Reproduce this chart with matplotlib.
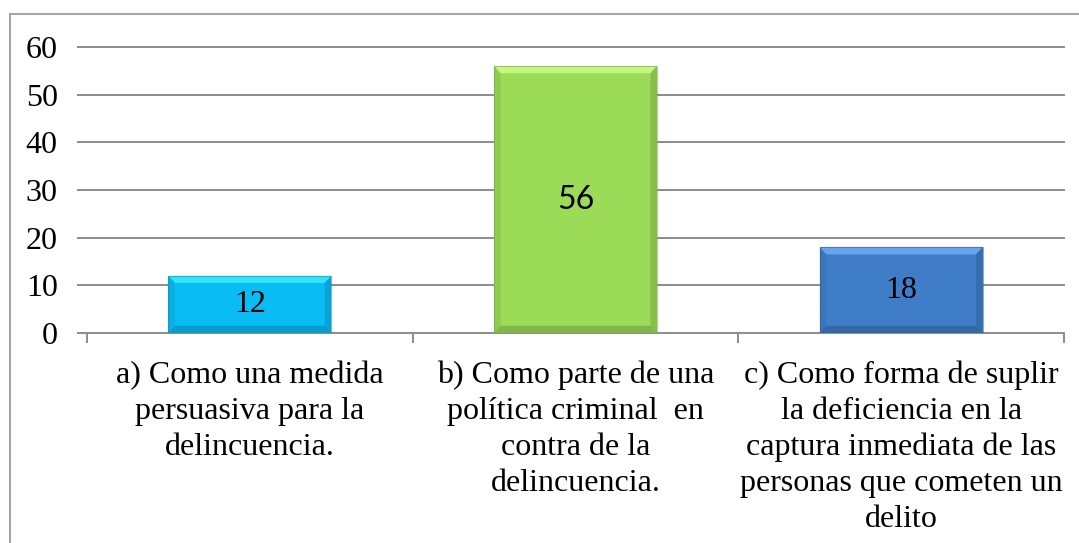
import numpy as np
import matplotlib.pyplot as plt
import matplotlib.patches as patches
from matplotlib.colors import to_rgb

# Datos del grafico
categorias = [
    "a) Como una medida\npersuasiva para la\ndelincuencia.",
    "b) Como parte de una\npolítica criminal  en\ncontra de la\ndelincuencia.",
    "c) Como forma de suplir\nla deficiencia en la\ncaptura inmediata de las\npersonas que cometen un\ndelito",
]
valores = [12, 56, 18]
colores = ["#0abcf4", "#9cdb58", "#3f7dc9"]
yticks = [0, 10, 20, 30, 40, 50, 60]

plt.rcParams['font.family'] = ['Liberation Serif', 'DejaVu Serif']

fig = plt.figure(figsize=(10.79, 5.43), dpi=100)
W, H = 1079, 543

# Marco del grafico (parcialmente fuera de la imagen)
marco = patches.Rectangle((10 / W, -0.1), 1.2, 1 - 14 / H + 0.1, transform=fig.transFigure,
                          fill=False, edgecolor="#a6a6a6", linewidth=1.5)
fig.patches.append(marco)

ax = fig.add_axes([87 / W, 1 - 333 / H, (1064 - 87) / W, (333 - 47) / H])

x = np.arange(len(valores))
ax.set_xlim(-0.5, len(valores) - 0.5)
ax.set_ylim(0, 60)

# Lineas de division
for y in yticks[1:]:
    ax.axhline(y, color="#8c8c8c", linewidth=1.4, zorder=1, clip_on=False)

barras = ax.bar(x, valores, width=0.5, color=colores, zorder=3,
                edgecolor="none")

# Efecto de bisel tipo Excel
for b, c in zip(barras, colores):
    r, g, bl = to_rgb(c)
    claro = (min(1, r + 0.2), min(1, g + 0.2), min(1, bl + 0.2))
    oscuro = (r * 0.72, g * 0.72, bl * 0.72)
    x0, y0 = b.get_x(), b.get_y()
    w, h = b.get_width(), b.get_height()
    dx = w * 0.04
    dy = 60 * 0.025
    # borde superior claro
    ax.add_patch(patches.Polygon([(x0, y0 + h), (x0 + w, y0 + h), (x0 + w - dx, y0 + h - dy),
                                  (x0 + dx, y0 + h - dy)], closed=True, facecolor=claro,
                                 edgecolor="none", zorder=4, alpha=0.8))
    # borde derecho oscuro
    ax.add_patch(patches.Polygon([(x0 + w, y0 + h), (x0 + w, y0), (x0 + w - dx, y0 + dy),
                                  (x0 + w - dx, y0 + h - dy)], closed=True, facecolor=oscuro,
                                 edgecolor="none", zorder=4, alpha=0.45))
    # borde inferior oscuro
    ax.add_patch(patches.Polygon([(x0, y0), (x0 + w, y0), (x0 + w - dx, y0 + dy),
                                  (x0 + dx, y0 + dy)], closed=True, facecolor=oscuro,
                                 edgecolor="none", zorder=4, alpha=0.6))
    # borde izquierdo
    ax.add_patch(patches.Polygon([(x0, y0), (x0, y0 + h), (x0 + dx, y0 + h - dy),
                                  (x0 + dx, y0 + dy)], closed=True, facecolor=oscuro,
                                 edgecolor="none", zorder=4, alpha=0.25))
    # contorno
    ax.add_patch(patches.Rectangle((x0, y0), w, h, fill=False, edgecolor=oscuro,
                                   linewidth=0.8, zorder=5, alpha=0.5))

# Etiquetas de datos
fuentes_etiq = [['Liberation Serif'], ['Lato', 'DejaVu Sans'], ['Liberation Serif']]
for b, v, f in zip(barras, valores, fuentes_etiq):
    ax.text(b.get_x() + b.get_width() / 2, v / 2, str(v), ha="center", va="center",
            fontsize=23, color="black", family=f, zorder=6)

# Ejes
for lado in ["top", "right"]:
    ax.spines[lado].set_visible(False)
ax.spines["left"].set_visible(False)
ax.spines["bottom"].set_color("#8c8c8c")
ax.spines["bottom"].set_linewidth(1.4)

ax.set_yticks(yticks)
ax.set_yticklabels([str(t) for t in yticks], fontsize=23)
ax.tick_params(axis="y", length=7, width=1.4, color="#8c8c8c", pad=14)

# Marcas de categoria entre barras
ax.set_xticks([-0.5, 0.5, 1.5, 2.5])
ax.set_xticklabels([])
ax.tick_params(axis="x", length=7, width=1.4, color="#8c8c8c", direction="out")

for i, cat in enumerate(categorias):
    ax.text(i, -5.8, cat, ha="center", va="top", fontsize=23, linespacing=1.31,
            transform=ax.transData)

fig.savefig("out.png", dpi=100)
